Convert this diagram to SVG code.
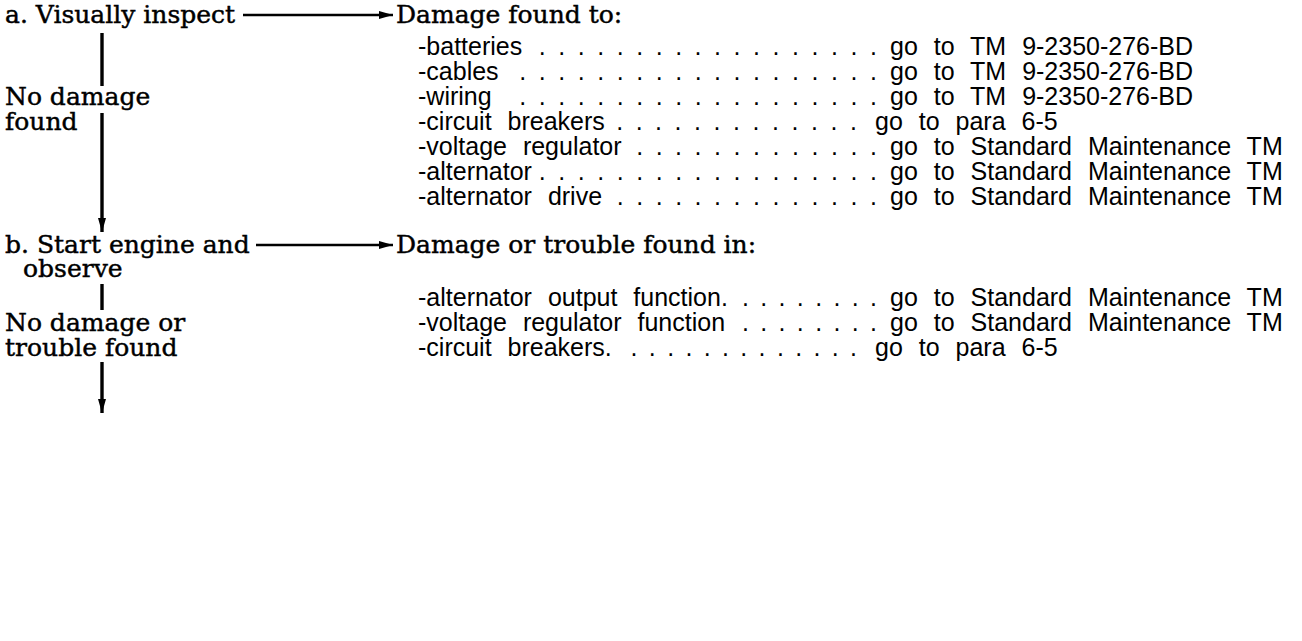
<svg xmlns="http://www.w3.org/2000/svg" width="1302" height="641" viewBox="0 0 1302 641">
  <style>
    .serif { font-family: "DejaVu Serif", "Liberation Serif", serif; font-size: 25px; fill: #000; stroke: #000; stroke-width: 0.45px; }
    .sans { font-family: "Liberation Sans", Arial, sans-serif; font-size: 25px; fill: #000; word-spacing: 9px; }
    .dots { font-family: "Liberation Sans", Arial, sans-serif; font-size: 25px; fill: #000; word-spacing: 5.6px; text-anchor: end; }
    .tight { word-spacing: 4.4px; }
    .conn { stroke: #000; fill: none; }
    .v { stroke-width: 3.4; }
    .h { stroke-width: 2.6; }
  </style>
  <defs>
    <marker id="arrow" viewBox="0 0 14 8" refX="14" refY="4" markerWidth="14" markerHeight="8" markerUnits="userSpaceOnUse" orient="auto">
      <path d="M0,0 L14,4 L0,8 Z" fill="#000"/>
    </marker>
  </defs>
  <rect width="1302" height="641" fill="#fff"/>

  <g id="connectors">
    <line class="conn h" x1="243" y1="15" x2="393" y2="15" marker-end="url(#arrow)"/>
    <line class="conn v" x1="102" y1="33" x2="102" y2="86"/>
    <line class="conn v" x1="102" y1="113" x2="102" y2="232" marker-end="url(#arrow)"/>
    <line class="conn h" x1="256" y1="245" x2="393" y2="245" marker-end="url(#arrow)"/>
    <line class="conn v" x1="102" y1="284" x2="102" y2="310"/>
    <line class="conn v" x1="102" y1="362" x2="102" y2="413" marker-end="url(#arrow)"/>
  </g>

  <g id="step-a">
    <text class="serif" x="5" y="23">a. Visually inspect</text>
  </g>
  <g id="no-damage-a">
    <text class="serif" x="5" y="105">No damage</text>
    <text class="serif" x="5" y="130">found</text>
  </g>

  <g id="damage-found-to">
    <text class="serif" x="396" y="23">Damage found to:</text>
    <text class="sans" x="418" y="55">-batteries</text>
    <text class="dots" x="877" y="55">. . . . . . . . . . . . . . . . . .</text>
    <text class="sans" x="890" y="55">go to TM 9-2350-276-BD</text>

    <text class="sans" x="418" y="80">-cables</text>
    <text class="dots" x="877" y="80">. . . . . . . . . . . . . . . . . . .</text>
    <text class="sans" x="890" y="80">go to TM 9-2350-276-BD</text>

    <text class="sans" x="418" y="105">-wiring</text>
    <text class="dots" x="877" y="105">. . . . . . . . . . . . . . . . . . .</text>
    <text class="sans" x="890" y="105">go to TM 9-2350-276-BD</text>

    <text class="sans" x="418" y="130">-circuit breakers</text>
    <text class="dots" x="857" y="130">. . . . . . . . . . . . .</text>
    <text class="sans" x="875" y="130">go to para 6-5</text>

    <text class="sans" x="418" y="155">-voltage regulator</text>
    <text class="dots" x="877" y="155">. . . . . . . . . . . . .</text>
    <text class="sans" x="890" y="155">go to Standard Maintenance TM</text>

    <text class="sans" x="418" y="180">-alternator</text>
    <text class="dots" x="877" y="180">. . . . . . . . . . . . . . . . . .</text>
    <text class="sans" x="890" y="180">go to Standard Maintenance TM</text>

    <text class="sans" x="418" y="205">-alternator drive</text>
    <text class="dots" x="877" y="205">. . . . . . . . . . . . . .</text>
    <text class="sans" x="890" y="205">go to Standard Maintenance TM</text>
  </g>

  <g id="step-b">
    <text class="serif" x="5" y="253">b. Start engine and</text>
    <text class="serif" x="23" y="277">observe</text>
  </g>
  <g id="no-damage-b">
    <text class="serif" x="5" y="331">No damage or</text>
    <text class="serif" x="5" y="356">trouble found</text>
  </g>

  <g id="damage-trouble-found-in">
    <text class="serif" x="396" y="253">Damage or trouble found in:</text>
    <text class="sans" x="418" y="306">-alternator output function.</text>
    <text class="dots tight" x="877" y="306">. . . . . . . .</text>
    <text class="sans" x="890" y="306">go to Standard Maintenance TM</text>

    <text class="sans" x="418" y="331">-voltage regulator function</text>
    <text class="dots tight" x="877" y="331">. . . . . . . .</text>
    <text class="sans" x="890" y="331">go to Standard Maintenance TM</text>

    <text class="sans" x="418" y="356">-circuit breakers.</text>
    <text class="dots tight" x="857" y="356">. . . . . . . . . . . . .</text>
    <text class="sans" x="875" y="356">go to para 6-5</text>
  </g>
</svg>
